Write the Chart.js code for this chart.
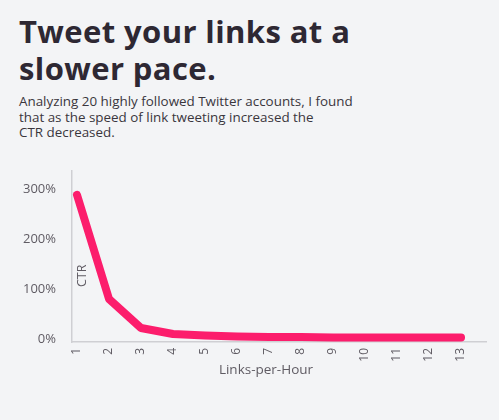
<!DOCTYPE html>
<html>
<head>
<meta charset="utf-8">
<script src="https://cdn.jsdelivr.net/npm/chart.js@4/dist/chart.umd.min.js"></script>
<style>
  html, body { margin: 0; padding: 0; background: #f3f4f6; }
  body { width: 499px; height: 420px; position: relative; overflow: hidden; font-family: "Open Sans", Lato, sans-serif; }
  h1 { position: absolute; left: 19px; top: 13px; margin: 0; font-family: "Open Sans", sans-serif; font-weight: 700; font-size: 31px; line-height: 37px; color: #2e2833; letter-spacing: 0.4px; }
  p { position: absolute; left: 19px; top: 94px; margin: 0; font-size: 13.4px; line-height: 15.5px; color: #3a363d; }
  #wrap { position: absolute; left: 0; top: 147px; width: 499px; height: 273px; }
</style>
</head>
<body>
<h1>Tweet your links at a<br>slower pace.</h1>
<p>Analyzing 20 highly followed Twitter accounts, I found<br>that as the speed of link tweeting increased the<br>CTR decreased.</p>
<div id="wrap"><canvas id="c" width="499" height="273"></canvas></div>
<script>
const linksPerHour = [1, 2, 3, 4, 5, 6, 7, 8, 9, 10, 11, 12, 13];
const ctrPercent = [288, 80, 22, 10, 7, 5, 4, 4, 3, 3, 3, 3, 3];
const yTicks = [0, 100, 200, 300];
const xTitle = 'Links-per-Hour';
const yTitle = 'CTR';

const axisTitles = {
  id: 'axisTitles',
  afterDraw(chart) {
    const ctx = chart.ctx, a = chart.chartArea;
    ctx.save();
    ctx.fillStyle = '#5f5b63';
    ctx.font = '13.5px "Open Sans", sans-serif';
    ctx.textAlign = 'center';
    ctx.textBaseline = 'middle';
    ctx.fillText(xTitle, a.left + 194, a.bottom + 28);
    ctx.translate(a.left + 10, a.top + 105);
    ctx.rotate(-Math.PI / 2);
    ctx.font = '12.5px "Open Sans", sans-serif';
    ctx.fillText(yTitle, 0, 0);
    ctx.restore();
  }
};

new Chart(document.getElementById('c'), {
  type: 'line',
  data: {
    datasets: [{
      data: linksPerHour.map((x, i) => ({ x: x, y: ctrPercent[i] })),
      borderColor: '#fc1d6c',
      borderWidth: 8,
      borderCapStyle: 'round',
      borderJoinStyle: 'round',
      pointRadius: 0,
      tension: 0,
      fill: false
    }]
  },
  options: {
    responsive: false,
    animation: false,
    layout: { padding: { top: 10, right: 13, left: 0, bottom: 0 } },
    plugins: { legend: { display: false }, tooltip: { enabled: false } },
    scales: {
      x: {
        type: 'linear',
        min: 0.844,
        max: 13.78,
        afterBuildTicks(s) { s.ticks = linksPerHour.map(v => ({ value: v })); },
        afterFit(s) { s.height = 78; },
        grid: { display: false, drawTicks: false },
        border: { color: '#cfcfd3', width: 1.5 },
        ticks: {
          minRotation: 90, maxRotation: 90, padding: 6,
          color: '#5f5b63',
          font: { size: 12, family: '"Open Sans", sans-serif' },
          callback: v => String(v)
        }
      },
      y: {
        min: -6,
        max: 336,
        afterBuildTicks(s) { s.ticks = yTicks.map(v => ({ value: v })); },
        afterFit(s) { s.width = 72; },
        grid: { display: false, drawTicks: false },
        border: { color: '#cfcfd3', width: 1.5 },
        ticks: {
          padding: 16,
          color: '#5f5b63',
          font: { size: 13, family: '"Open Sans", sans-serif' },
          callback: v => v + '%'
        }
      }
    }
  },
  plugins: [axisTitles]
});
</script>
</body>
</html>
